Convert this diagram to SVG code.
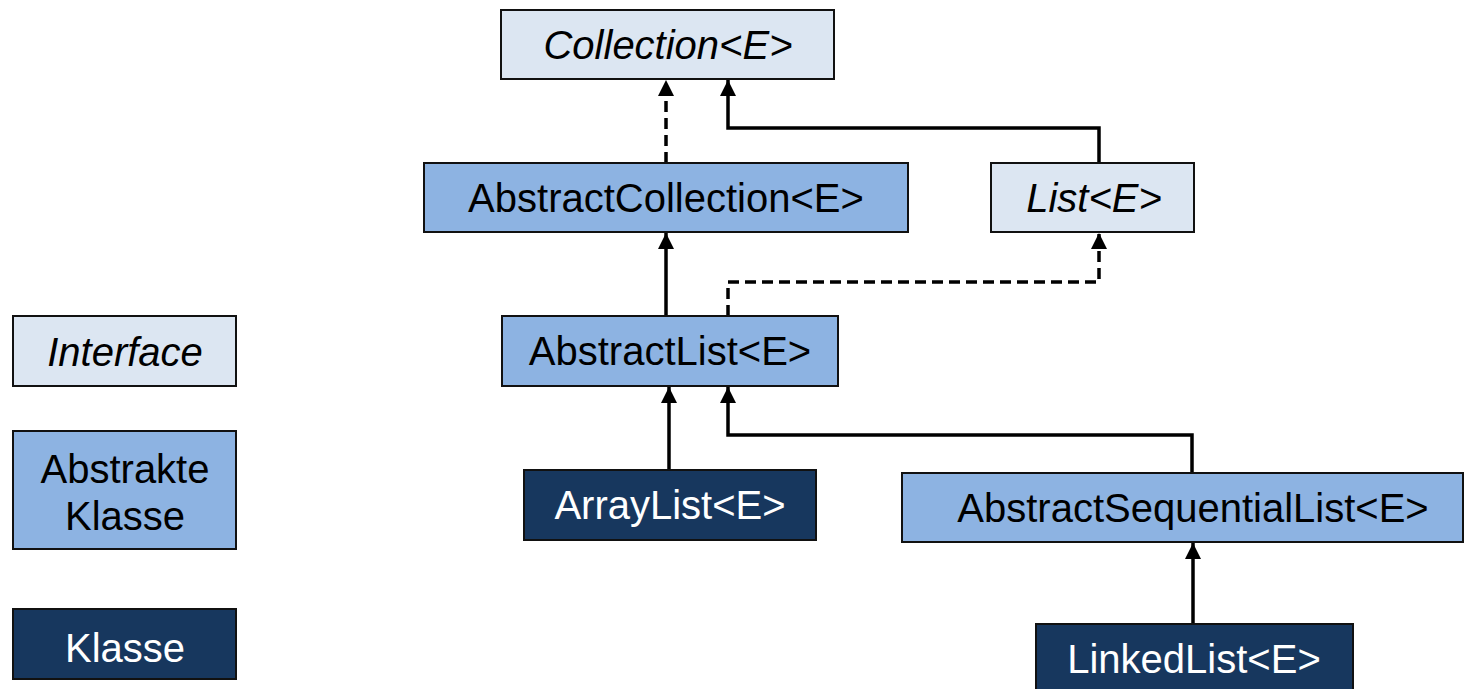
<svg xmlns="http://www.w3.org/2000/svg" width="1467" height="689" viewBox="0 0 1467 689">
  <style>
    .box { stroke: #111; stroke-width: 2; }
    .iface { fill: #dce6f2; }
    .abstract { fill: #8db3e2; }
    .klass { fill: #17375e; }
    text { font-family: "Liberation Sans", Arial, sans-serif; font-size: 40px; text-anchor: middle; fill: #000; }
    .it { font-style: italic; }
    .light { fill: #fff; }
    .edge { fill: none; stroke: #000; stroke-width: 3.5; }
    .dash { stroke-dasharray: 11 6; }
  </style>
  <defs>
    <marker id="arrow" viewBox="0 0 16 16" refX="16" refY="8" markerWidth="16" markerHeight="16" markerUnits="userSpaceOnUse" orient="auto">
      <path d="M0,0 L16,8 L0,16 Z" fill="#000"/>
    </marker>
  </defs>

  <!-- legend -->
  <g id="legend-interface">
    <rect class="box iface" x="13" y="316" width="223" height="70"/>
    <text class="it" x="125" y="366">Interface</text>
  </g>
  <g id="legend-abstract">
    <rect class="box abstract" x="13" y="431" width="223" height="118"/>
    <text x="125" y="483">Abstrakte</text>
    <text x="125" y="530">Klasse</text>
  </g>
  <g id="legend-class">
    <rect class="box klass" x="13" y="609" width="223" height="70"/>
    <text class="light" x="125" y="662">Klasse</text>
  </g>

  <!-- inheritance / implementation edges -->
  <g id="connectors">
    <path class="edge dash" d="M666,163 L666,80" marker-end="url(#arrow)"/>
    <path class="edge" d="M1099,163 L1099,128 L728,128 L728,80" marker-end="url(#arrow)"/>
    <path class="edge" d="M666,316 L666,233" marker-end="url(#arrow)"/>
    <path class="edge dash" d="M728,316 L728,282 L1099,282 L1099,233" marker-end="url(#arrow)"/>
    <path class="edge" d="M669,470 L669,387" marker-end="url(#arrow)"/>
    <path class="edge" d="M1192,473 L1192,435 L728,435 L728,387" marker-end="url(#arrow)"/>
    <path class="edge" d="M1193,624 L1193,543" marker-end="url(#arrow)"/>
  </g>

  <!-- types -->
  <g id="collection">
    <rect class="box iface" x="501" y="10" width="333" height="69"/>
    <text class="it" x="668" y="59">Collection&lt;E&gt;</text>
  </g>
  <g id="abstract-collection">
    <rect class="box abstract" x="424" y="163" width="484" height="69"/>
    <text x="666" y="212">AbstractCollection&lt;E&gt;</text>
  </g>
  <g id="list">
    <rect class="box iface" x="991" y="163" width="203" height="69"/>
    <text class="it" x="1094" y="212">List&lt;E&gt;</text>
  </g>
  <g id="abstract-list">
    <rect class="box abstract" x="502" y="316" width="336" height="70"/>
    <text x="670" y="365">AbstractList&lt;E&gt;</text>
  </g>
  <g id="array-list">
    <rect class="box klass" x="524" y="470" width="292" height="70"/>
    <text class="light" x="670" y="519">ArrayList&lt;E&gt;</text>
  </g>
  <g id="abstract-sequential-list">
    <rect class="box abstract" x="902" y="473" width="561" height="69"/>
    <text x="1193" y="522">AbstractSequentialList&lt;E&gt;</text>
  </g>
  <g id="linked-list">
    <rect class="box klass" x="1036" y="624" width="317" height="70"/>
    <text class="light" x="1194" y="673">LinkedList&lt;E&gt;</text>
  </g>
</svg>
